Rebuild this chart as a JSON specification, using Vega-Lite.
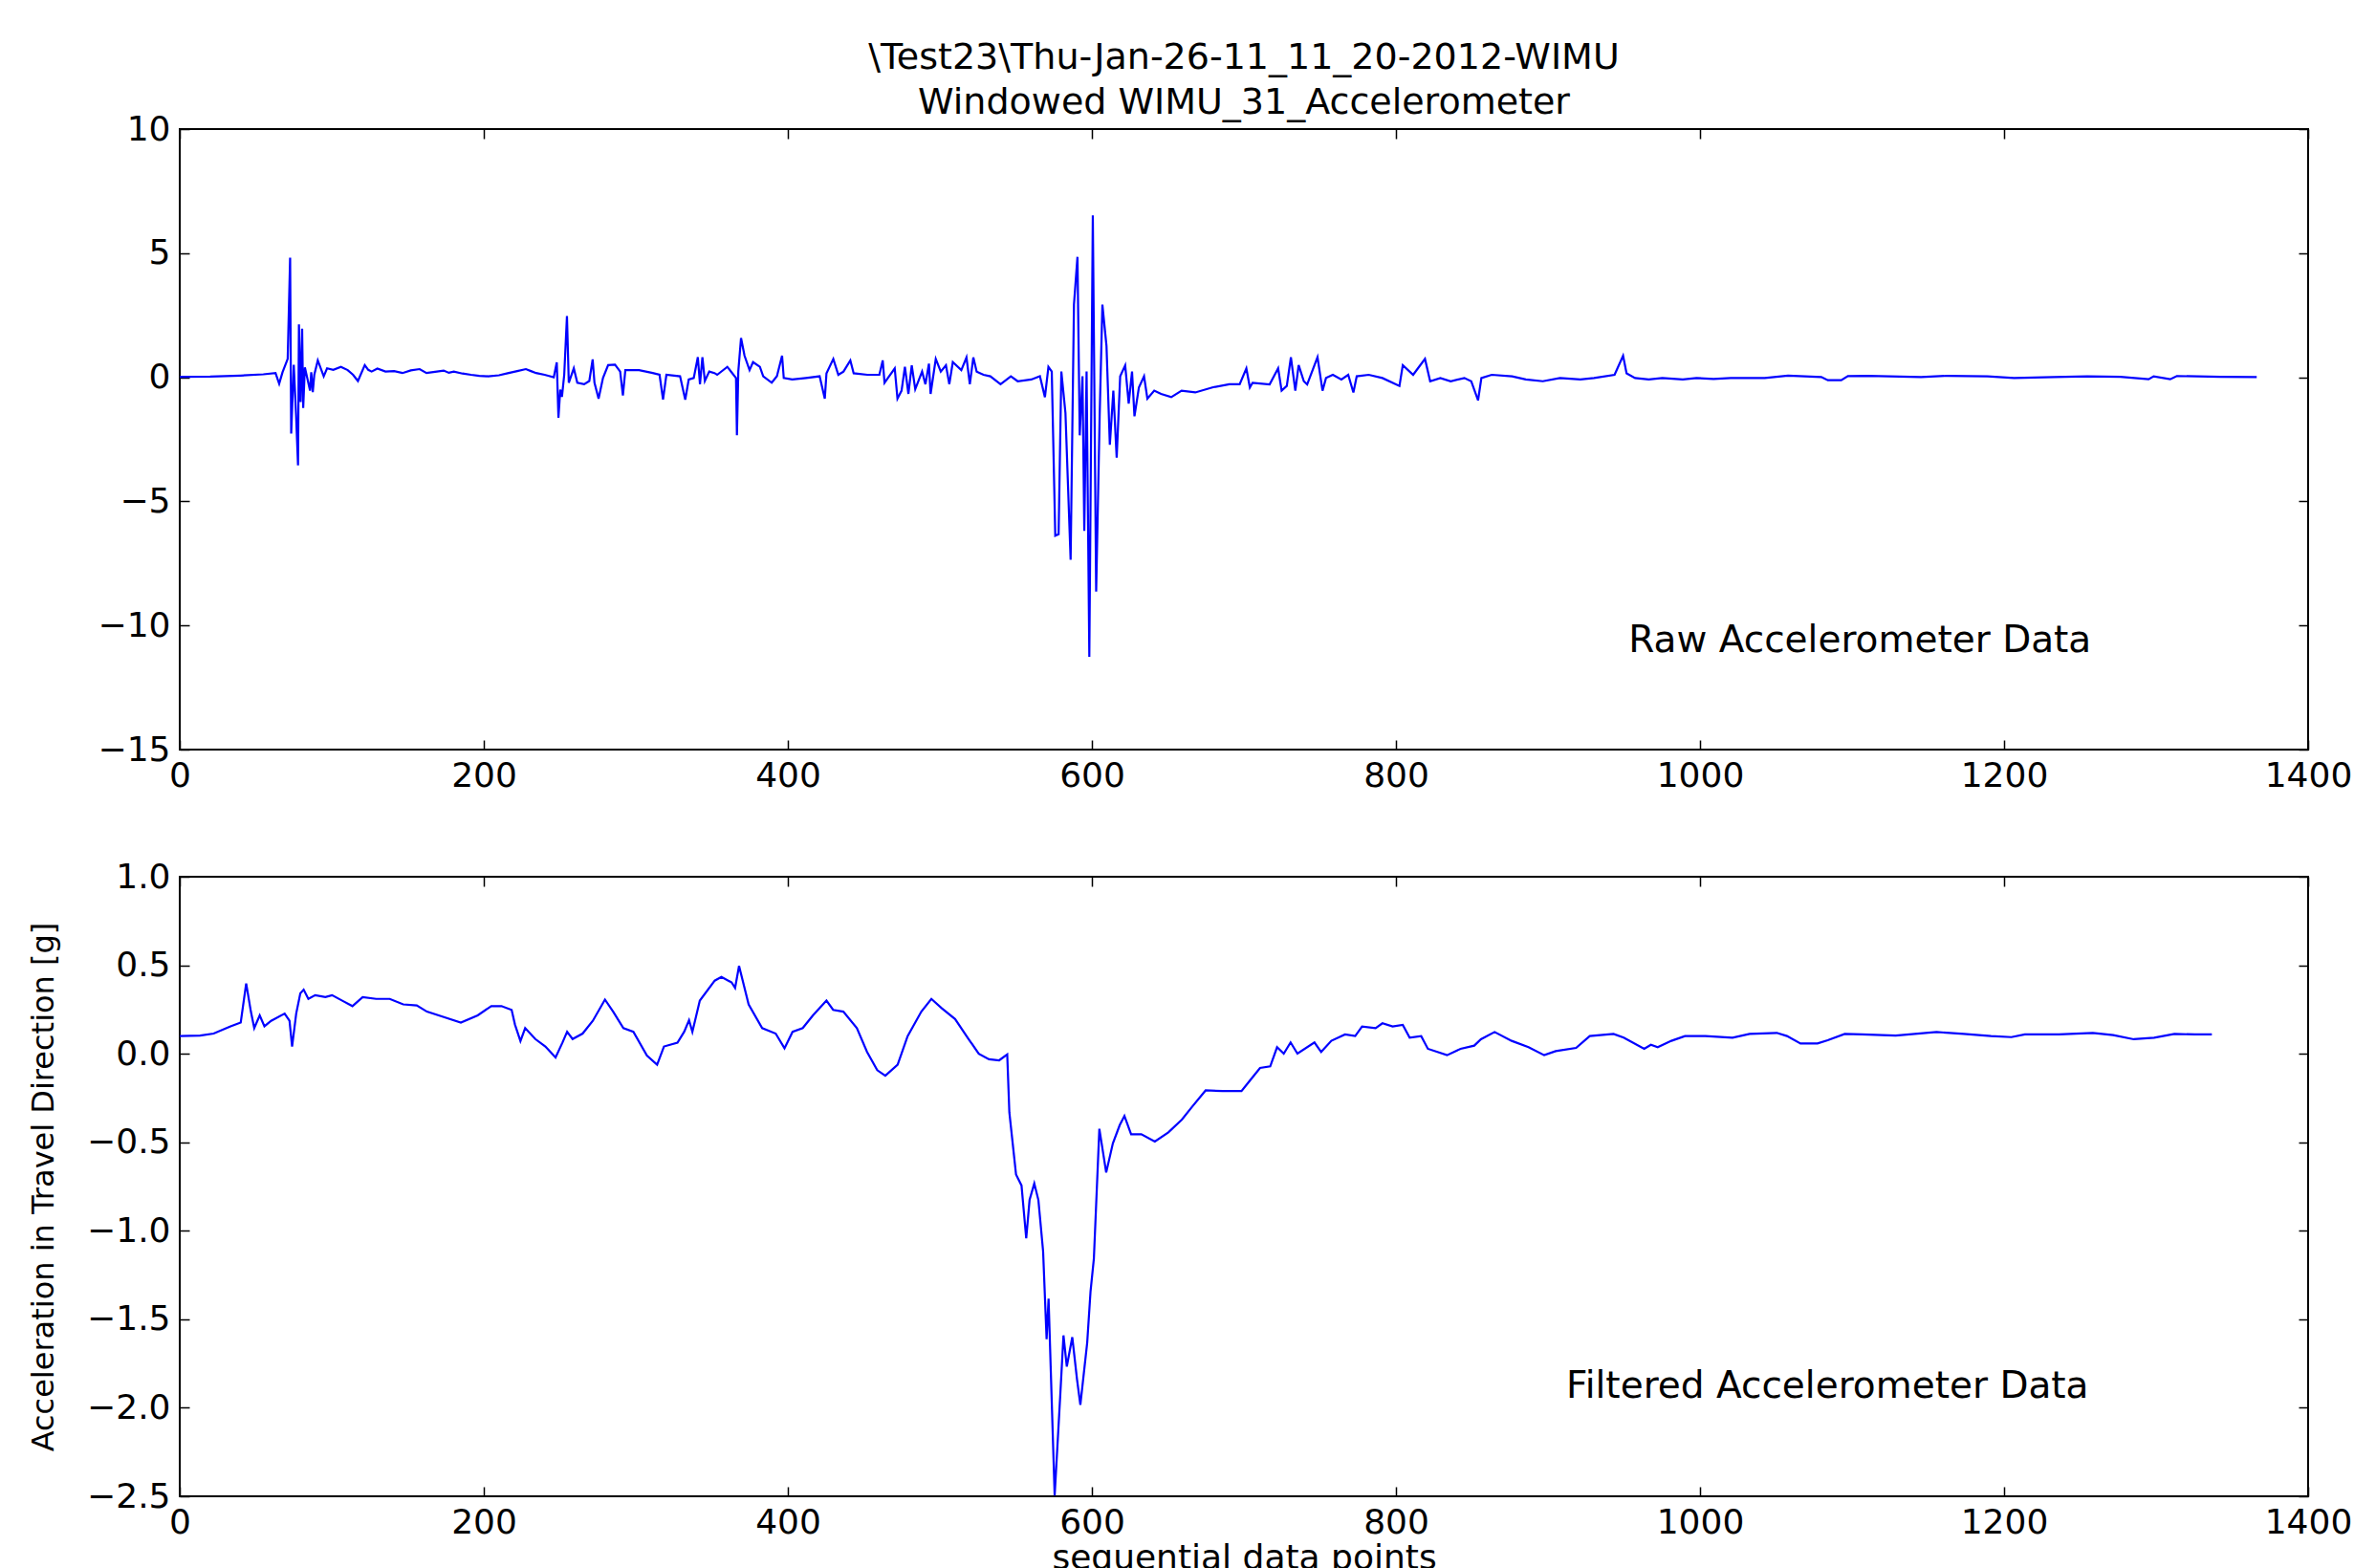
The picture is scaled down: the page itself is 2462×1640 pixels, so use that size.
{
  "$schema": "https://vega.github.io/schema/vega-lite/v6.json",
  "background": "white",
  "padding": {"left": 28, "top": 41, "right": 0, "bottom": 0},
  "spacing": 68,
  "config": {
    "font": "DejaVu Sans",
    "view": {"stroke": "#000000", "strokeWidth": 2},
    "axis": {
      "domain": false, "grid": false, "tickColor": "#000000", "tickWidth": 1.5, "tickSize": -10,
      "labelFontSize": 36, "labelColor": "#000000", "labelPadding": 20, "labelFont": "DejaVu Sans",
      "labelFlush": false, "labelOverlap": false, "labelBound": false,
      "titleFont": "DejaVu Sans", "titleFontWeight": "normal", "titleColor": "#000000"
    }
  },
  "datasets": {
    "raw": [
      {"x":0,"y":0.02},{"x":20,"y":0.03},{"x":40,"y":0.07},{"x":55,"y":0.12},{"x":63,"y":0.17},{"x":65.4,"y":-0.26},{"x":67.6,"y":0.2},{"x":71,"y":0.74},{"x":72.6,"y":4.82},{"x":73.3,"y":-2.27},{"x":75,"y":0.5},{"x":76.5,"y":-1.5},{"x":77.8,"y":-3.55},{"x":78.4,"y":2.13},{"x":79.5,"y":-1.0},{"x":80.5,"y":1.96},{"x":81.2,"y":-1.24},{"x":82.3,"y":0.4},{"x":83.4,"y":0.1},{"x":85.7,"y":-0.54},{"x":86.5,"y":0.2},{"x":87.5,"y":-0.6},{"x":88.5,"y":0.1},{"x":90.8,"y":0.68},{"x":94.7,"y":0.04},{"x":96.9,"y":0.36},{"x":101,"y":0.3},{"x":106,"y":0.42},{"x":110.5,"y":0.29},{"x":114,"y":0.1},{"x":117.2,"y":-0.15},{"x":121.7,"y":0.49},{"x":124,"y":0.3},{"x":126.2,"y":0.23},{"x":130,"y":0.35},{"x":135.3,"y":0.23},{"x":141,"y":0.25},{"x":146.5,"y":0.17},{"x":152,"y":0.28},{"x":157.8,"y":0.33},{"x":162.3,"y":0.17},{"x":168,"y":0.22},{"x":173.6,"y":0.27},{"x":177,"y":0.18},{"x":180.3,"y":0.23},{"x":186,"y":0.15},{"x":191.6,"y":0.1},{"x":197,"y":0.06},{"x":202.9,"y":0.04},{"x":210,"y":0.08},{"x":216.4,"y":0.17},{"x":222,"y":0.25},{"x":227.7,"y":0.33},{"x":231,"y":0.25},{"x":234.4,"y":0.17},{"x":240,"y":0.1},{"x":243.5,"y":0.04},{"x":246,"y":0.0},{"x":248,"y":0.6},{"x":249.1,"y":-1.63},{"x":250.3,"y":-0.5},{"x":251.4,"y":-0.79},{"x":252.9,"y":0.1},{"x":254.7,"y":2.47},{"x":255.9,"y":-0.22},{"x":259.2,"y":0.36},{"x":261.5,"y":-0.22},{"x":266,"y":-0.28},{"x":269.4,"y":-0.15},{"x":271.6,"y":0.72},{"x":272.8,"y":-0.22},{"x":275.5,"y":-0.86},{"x":278.4,"y":-0.03},{"x":281.8,"y":0.49},{"x":286.3,"y":0.51},{"x":289.7,"y":0.23},{"x":291.5,"y":-0.73},{"x":293.1,"y":0.29},{"x":302.1,"y":0.29},{"x":311.1,"y":0.17},{"x":315.6,"y":0.1},{"x":317.9,"y":-0.9},{"x":320.1,"y":0.1},{"x":329.1,"y":0.04},{"x":332.5,"y":-0.9},{"x":334.8,"y":-0.09},{"x":338.1,"y":-0.03},{"x":340.8,"y":0.81},{"x":342.2,"y":-0.28},{"x":343.8,"y":0.81},{"x":345.4,"y":-0.15},{"x":348.3,"y":0.23},{"x":351.7,"y":0.17},
      {"x":353.5,"y":0.1},{"x":360.2,"y":0.42},{"x":365.9,"y":-0.03},{"x":366.5,"y":-2.34},{"x":367.4,"y":0.23},{"x":369.2,"y":1.58},{"x":371.5,"y":0.87},{"x":374.8,"y":0.29},{"x":377.1,"y":0.61},{"x":381.6,"y":0.42},{"x":383.8,"y":0.04},{"x":389.4,"y":-0.22},{"x":392.8,"y":0.04},{"x":396.2,"y":0.87},{"x":397.3,"y":-0.03},{"x":402.9,"y":-0.09},{"x":411.9,"y":-0.03},{"x":420.9,"y":0.04},{"x":424.3,"y":-0.86},{"x":425.4,"y":0.16},{"x":429.9,"y":0.74},{"x":433.2,"y":0.1},{"x":436.6,"y":0.23},{"x":441.1,"y":0.68},{"x":443.3,"y":0.16},{"x":452.3,"y":0.1},{"x":460.2,"y":0.1},{"x":462.4,"y":0.68},{"x":463.6,"y":-0.22},{"x":465.8,"y":-0.03},{"x":470.3,"y":0.36},{"x":472.1,"y":-0.86},{"x":474.8,"y":-0.54},{"x":477,"y":0.42},{"x":479.3,"y":-0.67},{"x":481.5,"y":0.48},{"x":483.8,"y":-0.48},{"x":488.3,"y":0.23},{"x":490.5,"y":-0.28},{"x":492.8,"y":0.55},{"x":493.9,"y":-0.67},{"x":497.3,"y":0.74},{"x":500.6,"y":0.23},{"x":504,"y":0.48},{"x":506.2,"y":-0.28},{"x":508.5,"y":0.61},{"x":514.1,"y":0.29},{"x":517.5,"y":0.8},{"x":519.7,"y":-0.28},{"x":522,"y":0.8},{"x":524.2,"y":0.23},{"x":528.7,"y":0.1},{"x":533.2,"y":0.04},{"x":539.9,"y":-0.28},{"x":546.7,"y":0.04},{"x":551.2,"y":-0.16},{"x":560.1,"y":-0.09},{"x":565.8,"y":0.04},{"x":569.1,"y":-0.8},{"x":571.4,"y":0.42},{"x":573.6,"y":0.23},{"x":575.9,"y":-6.38},{"x":578.1,"y":-6.32},{"x":579.9,"y":0.23},{"x":582.6,"y":-1.44},{"x":586,"y":-7.35},{"x":588.2,"y":2.93},{"x":590.5,"y":4.85},{"x":592,"y":-2.34},{"x":593.8,"y":0.04},{"x":595,"y":-6.19},{"x":596.5,"y":0.23},{"x":598.3,"y":-11.26},{"x":600.6,"y":6.52},{"x":602.8,"y":-8.63},{"x":605.1,"y":-1.57},{"x":606.9,"y":2.93},{"x":609.6,"y":1.26},{"x":611.8,"y":-2.72},{"x":614.1,"y":-0.54},{"x":616.3,"y":-3.24},{"x":618.6,"y":0.04},{"x":621.9,"y":0.48},{"x":624.2,"y":-1.06},{"x":626.4,"y":0.23},{"x":628,"y":-1.57},{"x":630.9,"y":-0.41},{"x":634.3,"y":0.04},{"x":636.5,"y":-0.86},{"x":641,"y":-0.54},{"x":645.5,"y":-0.67},{"x":652.2,"y":-0.8},{"x":659,"y":-0.54},{"x":668,"y":-0.61},{"x":679.2,"y":-0.41},{"x":690.4,"y":-0.28},{"x":697.2,"y":-0.28},{"x":701.6,"y":0.36},{"x":703.9,"y":-0.41},
      {"x":705.7,"y":-0.22},{"x":716.9,"y":-0.29},{"x":722.5,"y":0.36},{"x":724.8,"y":-0.54},{"x":728.2,"y":-0.35},{"x":730.9,"y":0.81},{"x":733.8,"y":-0.54},{"x":736,"y":0.49},{"x":739.4,"y":-0.16},{"x":741.6,"y":-0.29},{"x":748.4,"y":0.81},{"x":751.7,"y":-0.54},{"x":754,"y":-0.03},{"x":758.5,"y":0.1},{"x":764.1,"y":-0.09},{"x":768.6,"y":0.1},{"x":772,"y":-0.61},{"x":774.2,"y":0.04},{"x":782.1,"y":0.1},{"x":791.1,"y":-0.03},{"x":802.3,"y":-0.35},{"x":804.5,"y":0.49},{"x":811.3,"y":0.1},{"x":819.1,"y":0.74},{"x":822.5,"y":-0.16},{"x":829.2,"y":-0.03},{"x":836,"y":-0.16},{"x":845,"y":-0.03},{"x":849.5,"y":-0.16},{"x":854,"y":-0.93},{"x":856.2,"y":-0.03},{"x":863,"y":0.1},{"x":876.4,"y":0.04},{"x":885.4,"y":-0.09},{"x":896.6,"y":-0.16},{"x":907.9,"y":-0.03},{"x":921.3,"y":-0.09},{"x":930.3,"y":-0.03},{"x":943.8,"y":0.1},{"x":949.4,"y":0.87},{"x":951.7,"y":0.16},{"x":957.3,"y":-0.03},{"x":966.3,"y":-0.09},{"x":975.2,"y":-0.03},{"x":988.7,"y":-0.09},{"x":997.7,"y":-0.03},{"x":1008.9,"y":-0.07},{"x":1020.2,"y":-0.03},{"x":1031.4,"y":-0.03},{"x":1042.6,"y":-0.03},{"x":1057.9,"y":0.07},
      {"x":1079.8,"y":0.01},{"x":1084.1,"y":-0.12},{"x":1092.9,"y":-0.12},{"x":1097.3,"y":0.05},{"x":1110.4,"y":0.06},{"x":1145.4,"y":0.01},{"x":1162.8,"y":0.06},{"x":1189.1,"y":0.04},{"x":1206.6,"y":-0.03},{"x":1232.8,"y":0.01},{"x":1254.7,"y":0.04},{"x":1276.5,"y":0.02},{"x":1295.1,"y":-0.08},{"x":1298.4,"y":0.04},{"x":1309.3,"y":-0.08},{"x":1313.7,"y":0.05},{"x":1342.1,"y":0.02},{"x":1366.2,"y":0.01}
    ],
    "filtered": [
      {"x":0,"y":0.1},{"x":13.4,"y":0.103},{"x":22.3,"y":0.114},{"x":33.4,"y":0.155},{"x":40.1,"y":0.176},{"x":43.7,"y":0.397},{"x":46.8,"y":0.238},{"x":49,"y":0.145},{"x":52.6,"y":0.217},{"x":55.7,"y":0.155},{"x":60.1,"y":0.186},{"x":69,"y":0.227},{"x":72.2,"y":0.186},{"x":73.9,"y":0.041},{"x":76.6,"y":0.227},{"x":79.3,"y":0.341},{"x":81.5,"y":0.362},{"x":84.6,"y":0.31},{"x":89.1,"y":0.331},{"x":95.8,"y":0.32},{"x":100.2,"y":0.331},{"x":106.9,"y":0.3},{"x":113.6,"y":0.269},{"x":120.3,"y":0.32},{"x":129.2,"y":0.31},{"x":138.1,"y":0.31},{"x":147,"y":0.279},{"x":155.9,"y":0.273},{"x":162.6,"y":0.238},{"x":173.7,"y":0.207},{"x":184.9,"y":0.176},{"x":196,"y":0.217},{"x":204.9,"y":0.269},{"x":211.6,"y":0.269},{"x":218.3,"y":0.248},{"x":220.5,"y":0.165},{"x":224.1,"y":0.072},{"x":227.2,"y":0.145},{"x":233.9,"y":0.083},{"x":240.5,"y":0.041},{"x":247.2,"y":-0.021},{"x":251.7,"y":0.062},{"x":254.8,"y":0.124},{"x":258.4,"y":0.083},{"x":265,"y":0.114},{"x":271.7,"y":0.186},{"x":279.7,"y":0.306},{"x":285.1,"y":0.238},{"x":291.8,"y":0.145},{"x":298.4,"y":0.124},{"x":307.3,"y":-0.01},{"x":314,"y":-0.062},{"x":318.5,"y":0.041},{"x":327.4,"y":0.062},{"x":331.8,"y":0.124},{"x":335,"y":0.19},{"x":337.2,"y":0.124},{"x":342.1,"y":0.3},{"x":351.9,"y":0.413},{"x":356.3,"y":0.434},{"x":363,"y":0.403},{"x":365.3,"y":0.372},{"x":367.9,"y":0.496},{"x":374.2,"y":0.279},{"x":383.1,"y":0.145},{"x":392,"y":0.114},{"x":397.8,"y":0.031},{"x":403.1,"y":0.124},{"x":409.8,"y":0.145},{"x":416.5,"y":0.217},{"x":425.4,"y":0.3},{"x":429.8,"y":0.248},{"x":436.5,"y":0.238},{"x":445.4,"y":0.145},{"x":452.1,"y":0.01},{"x":458.8,"y":-0.093},{"x":464.1,"y":-0.124},{"x":472.2,"y":-0.062},{"x":478.8,"y":0.1},{"x":487.8,"y":0.238},{"x":494.4,"y":0.31},{"x":501.1,"y":0.258},{"x":510,"y":0.196},{"x":518.9,"y":0.083},{"x":525.6,"y":0.0},{"x":532.3,"y":-0.031},{"x":539,"y":-0.037},{"x":544.3,"y":-0.004},{"x":545.7,"y":-0.331},{"x":550.1,"y":-0.682},{"x":553.7,"y":-0.744},{"x":556.8,"y":-1.043},{"x":559,"y":-0.826},{"x":562.1,"y":-0.733},{"x":564.8,"y":-0.826},{"x":567.9,"y":-1.116},{"x":570.2,"y":-1.612},{"x":571.5,"y":-1.384},{"x":575.5,"y":-2.496},{"x":579.1,"y":-1.942},{"x":581.3,"y":-1.591},{"x":583.5,"y":-1.767},{"x":587.1,"y":-1.601},{"x":590.2,"y":-1.839},{"x":592.4,"y":-1.983},{"x":596.9,"y":-1.632},{"x":599.1,"y":-1.343},{"x":601.3,"y":-1.157},{"x":604.9,"y":-0.424},{"x":609.4,"y":-0.671},{"x":613.8,"y":-0.506},{"x":618.3,"y":-0.403},{"x":621.4,"y":-0.351},{"x":625.8,"y":-0.455},{"x":632.5,"y":-0.455},{"x":641.4,"y":-0.496},{"x":650.3,"y":-0.444},{"x":659.2,"y":-0.372},{"x":665.9,"y":-0.3},{"x":674.8,"y":-0.207},{"x":686,"y":-0.211},{"x":698.4,"y":-0.211},{"x":703.9,"y":-0.152},{"x":710.6,"y":-0.08},{"x":717.3,"y":-0.071},{"x":721.8,"y":0.037},{"x":726.2,"y":0.001},{"x":730.7,"y":0.064},{"x":735.2,"y":0.001},{"x":746.4,"y":0.064},{"x":750.8,"y":0.01},{"x":757.5,"y":0.073},{"x":766.5,"y":0.109},{"x":773.2,"y":0.1},{"x":777.7,"y":0.154},{"x":786.6,"y":0.145},{"x":791.1,"y":0.172},{"x":797.8,"y":0.154},{"x":804.5,"y":0.163},{"x":809,"y":0.091},{"x":816.6,"y":0.1},{"x":821,"y":0.028},{"x":833.6,"y":-0.008},{"x":842.5,"y":0.028},{"x":851.5,"y":0.046},{"x":855.9,"y":0.082},{"x":864.9,"y":0.123},{"x":876.1,"y":0.073},{"x":887.2,"y":0.037},{"x":897.5,"y":-0.008},{"x":905.1,"y":0.015},{"x":918.5,"y":0.033},{"x":927.5,"y":0.1},{"x":943.1,"y":0.112},{"x":949.8,"y":0.091},{"x":963.3,"y":0.028},{"x":967.7,"y":0.051},{"x":972.2,"y":0.037},{"x":981.2,"y":0.073},{"x":990.1,"y":0.1},{"x":1003.5,"y":0.1},{"x":1021.4,"y":0.091},{"x":1032.6,"y":0.112},{"x":1050.5,"y":0.118},{"x":1057.2,"y":0.1},{"x":1066.1,"y":0.058},{"x":1077.3,"y":0.058},{"x":1084,"y":0.076},{"x":1095.2,"y":0.112},{"x":1106.4,"y":0.109},{"x":1128.7,"y":0.103},{"x":1155.6,"y":0.123},{"x":1173.5,"y":0.112},{"x":1191.4,"y":0.1},{"x":1204.8,"y":0.094},{"x":1213.7,"y":0.109},{"x":1236.1,"y":0.109},{"x":1258.4,"y":0.118},{"x":1271.8,"y":0.105},{"x":1285.3,"y":0.082},{"x":1298.7,"y":0.091},{"x":1312.1,"y":0.112},{"x":1325.5,"y":0.109},{"x":1336.7,"y":0.109}
    ]
  },
  "vconcat": [
    {
      "title": {
        "text": ["\\Test23\\Thu-Jan-26-11_11_20-2012-WIMU", "Windowed WIMU_31_Accelerometer"],
        "fontSize": 38, "font": "DejaVu Sans", "fontWeight": "normal", "color": "#000000",
        "anchor": "middle", "frame": "group", "offset": -10, "lineHeight": 47
      },
      "width": 2226,
      "height": 649,
      "layer": [
        {
          "data": {"name": "raw"},
          "mark": {"type": "line", "color": "#0000ff", "strokeWidth": 2.2, "clip": true},
          "encoding": {
            "x": {"field": "x", "type": "quantitative",
              "scale": {"domain": [0, 1400], "nice": false, "zero": false},
              "axis": {"orient": "bottom", "values": [0,200,400,600,800,1000,1200,1400], "format": "d", "title": null}},
            "y": {"field": "y", "type": "quantitative",
              "scale": {"domain": [-15, 10], "nice": false, "zero": false},
              "axis": {"orient": "left", "values": [-15,-10,-5,0,5,10], "format": "d", "title": null}}
          }
        },
        {
          "data": {"values": [{}]},
          "mark": {"type": "text", "align": "left", "baseline": "middle", "fontSize": 39, "font": "DejaVu Sans", "color": "#000000"},
          "encoding": {
            "x": {"datum": 953, "type": "quantitative",
              "scale": {"domain": [0, 1400], "nice": false, "zero": false},
              "axis": {"orient": "top", "values": [0,200,400,600,800,1000,1200,1400], "labels": false, "title": null}},
            "y": {"datum": -10.6, "type": "quantitative",
              "scale": {"domain": [-15, 10], "nice": false, "zero": false},
              "axis": {"orient": "right", "values": [-15,-10,-5,0,5,10], "labels": false, "title": null}},
            "text": {"value": "Raw Accelerometer Data"}
          }
        }
      ],
      "resolve": {"axis": {"x": "independent", "y": "independent"}}
    },
    {
      "width": 2226,
      "height": 648,
      "layer": [
        {
          "data": {"name": "filtered"},
          "mark": {"type": "line", "color": "#0000ff", "strokeWidth": 2.2, "clip": true},
          "encoding": {
            "x": {"field": "x", "type": "quantitative",
              "scale": {"domain": [0, 1400], "nice": false, "zero": false},
              "axis": {"orient": "bottom", "values": [0,200,400,600,800,1000,1200,1400], "format": "d",
                "title": "sequential data points", "titleFontSize": 36, "titlePadding": 2}},
            "y": {"field": "y", "type": "quantitative",
              "scale": {"domain": [-2.5, 1.0], "nice": false, "zero": false},
              "axis": {"orient": "left", "values": [-2.5,-2.0,-1.5,-1.0,-0.5,0.0,0.5,1.0], "format": ".1f",
                "title": "Acceleration in Travel Direction [g]", "titleFontSize": 32, "titlePadding": 28}}
          }
        },
        {
          "data": {"values": [{}]},
          "mark": {"type": "text", "align": "left", "baseline": "middle", "fontSize": 39, "font": "DejaVu Sans", "color": "#000000"},
          "encoding": {
            "x": {"datum": 912, "type": "quantitative",
              "scale": {"domain": [0, 1400], "nice": false, "zero": false},
              "axis": {"orient": "top", "values": [0,200,400,600,800,1000,1200,1400], "labels": false, "title": null}},
            "y": {"datum": -1.88, "type": "quantitative",
              "scale": {"domain": [-2.5, 1.0], "nice": false, "zero": false},
              "axis": {"orient": "right", "values": [-2.5,-2.0,-1.5,-1.0,-0.5,0.0,0.5,1.0], "labels": false, "title": null}},
            "text": {"value": "Filtered Accelerometer Data"}
          }
        }
      ],
      "resolve": {"axis": {"x": "independent", "y": "independent"}}
    }
  ]
}
